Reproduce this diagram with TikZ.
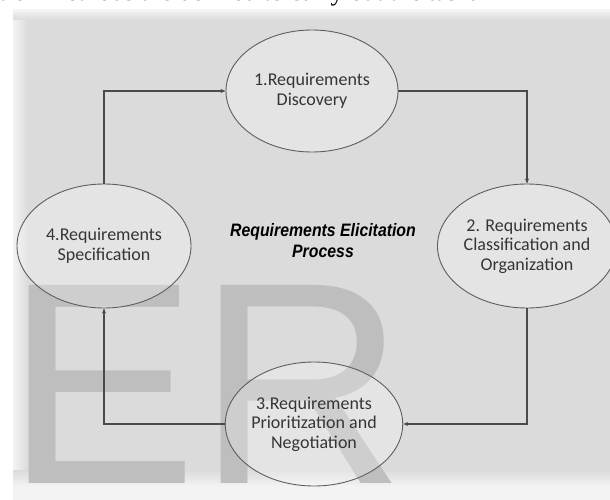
\documentclass[tikz,border=0pt]{standalone}
\usepackage{fontspec}
\setmainfont{Liberation Serif}
\newfontfamily\boxfont{Carlito}
\newfontfamily\markfont{Liberation Sans}
\newfontfamily\titlefont{Liberation Sans}
\usetikzlibrary{shapes.geometric,arrows.meta}
\definecolor{panelbg}{HTML}{DBDBDB}
\definecolor{panellight}{HTML}{F3F3F3}
\definecolor{markgray}{HTML}{BEBEBE}
\definecolor{edgegray}{HTML}{5E5E5E}
\definecolor{textgray}{HTML}{353535}
\definecolor{linegray}{HTML}{4A4A4A}
\tikzset{
  stage/.style={ellipse, draw=edgegray, line width=0.9pt, fill=white, fill opacity=0.25,
    text opacity=1, inner sep=0pt, text=textgray, align=center,
    font=\boxfont\fontsize{18}{19.5}\selectfont},
  flow/.style={draw=linegray, line width=1.1pt, -{Stealth[length=5pt,width=4pt]}},
  titletext/.style={align=center, font=\titlefont\bfseries\itshape\fontsize{18}{21}\selectfont, xscale=0.88},
}
\begin{document}
\begin{tikzpicture}[x=1pt,y=-1pt]
\useasboundingbox (0,0) rectangle (610,500);
\begin{scope}
\clip (0,0) rectangle (610,500);
\fill[white] (0,0) rectangle (610,500);
% top clipped sentence
\node[anchor=base west, inner sep=0pt, font=\fontsize{26}{26}\selectfont] (toptext) at (-1,1)
  {tion methods are defined to carry out the task.};
% panel
\fill[panelbg] (13,10) rectangle (610,482);
\shade[left color=panellight, right color=panelbg] (13,10) rectangle (28,482);
\shade[top color=panellight, bottom color=panelbg] (13,10) rectangle (610,20);
\shade[top color=panelbg, bottom color=panellight] (13,470) rectangle (610,486);
\fill[panellight] (13,486) rectangle (610,500);
% watermark
\node[anchor=base west, inner sep=0pt, text=markgray, font=\markfont\fontsize{288}{288}\selectfont] (mark) at (5,483) {ER};
\end{scope}
% stages
\node[stage, minimum width=172pt, minimum height=122pt] (s1) at (312,91) {1.Requirements\\Discovery};
\node[stage, minimum width=166pt, minimum height=124pt] (s2) at (527,246) {2. Requirements\\Classification and\\Organization};
\node[stage, minimum width=176pt, minimum height=124pt] (s3) at (314,424) {3.Requirements\\Prioritization and\\Negotiation};
\node[stage, minimum width=174pt, minimum height=124pt] (s4) at (104,246) {4.Requirements\\Specification};
% title
\node[titletext] (title) at (323,241) {Requirements Elicitation\\Process};
% connectors
\draw[flow] (s4.north) |- (s1.west);
\draw[flow] (s1.east) -| (s2.north);
\draw[flow] (s2.south) |- (s3.east);
\draw[flow] (s3.west) -| (s4.south);
\end{tikzpicture}
\end{document}
